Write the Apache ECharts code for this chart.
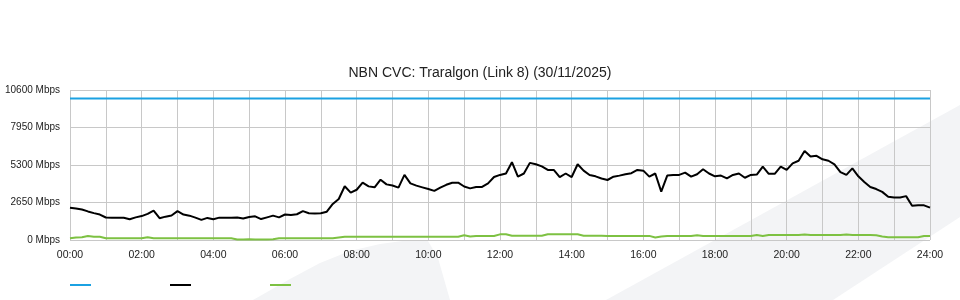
<!DOCTYPE html>
<html>
<head>
<meta charset="utf-8">
<script src="https://cdn.jsdelivr.net/npm/echarts@6/dist/echarts.min.js"></script>
<style>html,body{margin:0;padding:0;background:#fff;}#c{width:960px;height:300px;}</style>
</head>
<body>
<div id="c"></div>
<script>
const titleText = 'NBN CVC: Traralgon (Link 8) (30/11/2025)';
const seriesNames = ['Capacity', 'Download', 'Upload'];
const yTicks = [0, 2650, 5300, 7950, 10600];
const stepMinutes = 10;
const capacity = 10000;
const download = [
  2280, 2230, 2150, 2020, 1900, 1800,
  1590, 1580, 1580, 1570, 1470, 1600,
  1690, 1850, 2080, 1540, 1650, 1730,
  2040, 1800, 1720, 1580, 1420, 1560,
  1470, 1580, 1580, 1580, 1590, 1520,
  1630, 1670, 1480, 1600, 1720, 1600,
  1800, 1760, 1820, 2040, 1890, 1880,
  1890, 2000, 2550, 2900, 3800, 3350,
  3550, 4050, 3790, 3720, 4260, 3930,
  3850, 3700, 4600, 4000, 3840, 3720,
  3600, 3470, 3700, 3900, 4050, 4050,
  3780, 3650, 3750, 3750, 4000, 4450,
  4600, 4700, 5500, 4480, 4700, 5450,
  5350, 5200, 4950, 4950, 4450, 4700,
  4450, 5350, 4900, 4590, 4500, 4350,
  4240, 4470, 4550, 4650, 4720, 4950,
  4900, 4480, 4700, 3420, 4550, 4600,
  4600, 4760, 4480, 4650, 5000, 4700,
  4500, 4550, 4360, 4600, 4700, 4400,
  4600, 4620, 5180, 4680, 4680, 5180,
  4950, 5420, 5600, 6290, 5900, 5950,
  5700, 5600, 5350, 4800, 4600, 5060,
  4500, 4100, 3750, 3600, 3400, 3050,
  3000, 3000, 3100, 2420, 2450, 2450,
  2290
];
const upload = [
  120, 180, 200, 280, 230, 230,
  130, 120, 120, 120, 120, 120,
  120, 200, 120, 120, 120, 120,
  120, 120, 120, 120, 120, 120,
  120, 120, 120, 120, 40, 30,
  50, 40, 40, 40, 60, 130,
  130, 130, 130, 130, 130, 130,
  130, 130, 130, 180, 230, 230,
  230, 230, 230, 230, 230, 230,
  230, 230, 230, 230, 230, 230,
  230, 230, 230, 230, 230, 230,
  330, 250, 283, 283, 283, 283,
  400, 400, 300, 300, 300, 300,
  300, 300, 400, 400, 400, 400,
  400, 400, 300, 300, 300, 300,
  290, 290, 290, 290, 290, 290,
  290, 290, 180, 250, 283, 283,
  283, 283, 283, 330, 283, 283,
  283, 283, 283, 283, 283, 283,
  283, 350, 280, 350, 350, 350,
  350, 350, 350, 390, 350, 350,
  350, 350, 350, 350, 390, 350,
  350, 350, 350, 330, 250, 190,
  190, 190, 190, 190, 190, 283,
  283
];

const minutes = download.map((_, i) => i * stepMinutes);
const pairs = arr => arr.map((v, i) => [minutes[i], v]);
const capData = minutes.map(m => [m, capacity]);

const font = '"Liberation Sans", Arial, sans-serif';
const chart = echarts.init(document.getElementById('c'), null, {renderer: 'canvas'});
chart.setOption({
  animation: false,
  backgroundColor: '#fff',
  textStyle: {fontFamily: font},
  title: {
    text: titleText, left: 'center', top: 61,
    textStyle: {fontFamily: font, fontSize: 14, fontWeight: 'normal', color: '#222'}
  },
  graphic: [
    {type: 'polygon', z: -10, silent: true,
     shape: {points: [[606, 300], [960, 105], [960, 217], [833, 300]]},
     style: {fill: '#f3f4f6'}},
    {type: 'polygon', z: -10, silent: true,
     shape: {points: [[253, 300], [290, 279], [320, 263], [350, 251], [380, 244], [410, 240], [428, 241], [438, 258], [450, 300]]},
     style: {fill: '#f3f4f6'}}
  ],
  legend: {
    left: 65, top: 279, itemWidth: 21, itemHeight: 2, itemGap: 79,
    icon: 'rect', formatter: () => '',
    data: seriesNames
  },
  grid: {left: 70, right: 30, top: 90, bottom: 60, containLabel: false, outerBoundsMode: 'none'},
  xAxis: {
    type: 'value', min: 0, max: 1440, interval: 60,
    axisLine: {show: false}, axisTick: {show: false},
    axisLabel: {
      fontFamily: font, fontSize: 10.5, color: '#222', margin: 10,
      formatter: v => (v % 120 === 0) ? String(v / 60).padStart(2, '0') + ':00' : ''
    },
    splitLine: {show: true, lineStyle: {color: '#c8c8c8', width: 1}}
  },
  yAxis: {
    type: 'value', min: yTicks[0], max: yTicks[yTicks.length - 1], interval: yTicks[1] - yTicks[0],
    axisLine: {show: false}, axisTick: {show: false},
    axisLabel: {fontFamily: font, fontSize: 10, color: '#222', margin: 10, formatter: v => v + ' Mbps'},
    splitLine: {show: true, lineStyle: {color: '#c8c8c8', width: 1}}
  },
  series: [
    {name: seriesNames[0], type: 'line', data: capData, showSymbol: false,
     lineStyle: {color: '#1ba1e2', width: 2}, itemStyle: {color: '#1ba1e2'}},
    {name: seriesNames[1], type: 'line', data: pairs(download), showSymbol: false,
     lineStyle: {color: '#000', width: 2}, itemStyle: {color: '#000'}},
    {name: seriesNames[2], type: 'line', data: pairs(upload), showSymbol: false,
     lineStyle: {color: '#7dc142', width: 2}, itemStyle: {color: '#7dc142'}}
  ]
});
</script>
</body>
</html>
